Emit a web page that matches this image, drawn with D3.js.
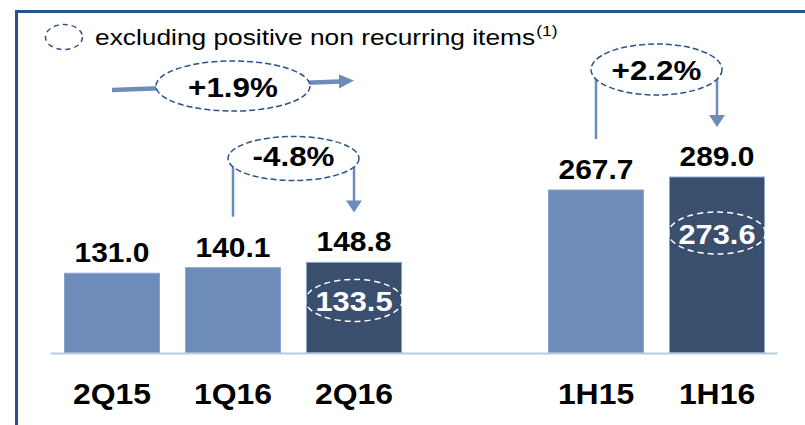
<!DOCTYPE html>
<html>
<head>
<meta charset="utf-8">
<script src="https://cdn.jsdelivr.net/npm/d3@7"></script>
<style>
  body { margin: 0; background: #fff; }
  svg { display: block; font-family: "Liberation Sans", Arial, sans-serif; }
</style>
</head>
<body>
<svg width="805" height="425"></svg>
<script>
// data
var categories = ["2Q15", "1Q16", "2Q16", "", "1H15", "1H16"];
var values = [131.0, 140.1, 148.8, null, 267.7, 289.0];
var highlighted = [false, false, true, false, false, true];
var excluding = [null, null, 133.5, null, null, 273.6];
var changes = [
  {from: "1Q16", to: "2Q16", label: "-4.8%"},
  {from: "1H15", to: "1H16", label: "+2.2%"}
];
var yearChange = {from: "2Q15", to: "2Q16", label: "+1.9%"};
var legendText = "excluding positive non recurring items";

var light = "#6d8cb9", dark = "#3a4e6e", frame = "#2b5286", axisCol = "#b9c9e0";

var svg = d3.select("svg");

var x = d3.scaleBand()
  .domain(categories)
  .range([51.5, 777.5])
  .paddingInner(0.215)
  .paddingOuter(0.1075);

var y = d3.scaleLinear()
  .domain([0, 289])
  .range([353, 177]);

var cx = function(c) { return x(c) + x.bandwidth() / 2; };
var data = categories.map(function(c, i) {
  return {cat: c, value: values[i], hi: highlighted[i], ex: excluding[i]};
}).filter(function(d) { return d.value != null; });

// text that is a bit wider than the font, like the original slide
function wideText(sel, tx, ty, sx) {
  return sel.attr("transform", function(d, i) {
    var a = typeof tx === "function" ? tx(d, i) : tx;
    var b = typeof ty === "function" ? ty(d, i) : ty;
    return "translate(" + a + "," + b + ") scale(" + sx + ",1)";
  }).attr("text-anchor", "middle");
}

// frame
svg.append("line").attr("x1", 15).attr("x2", 805).attr("y1", 11.5).attr("y2", 11.5)
  .attr("stroke", frame).attr("stroke-width", 3);
svg.append("line").attr("x1", 16.5).attr("x2", 16.5).attr("y1", 10).attr("y2", 425)
  .attr("stroke", frame).attr("stroke-width", 3);

// legend
svg.append("ellipse").attr("cx", 64).attr("cy", 37).attr("rx", 18.5).attr("ry", 12.5)
  .attr("fill", "none").attr("stroke", frame).attr("stroke-width", 1.5)
  .attr("stroke-dasharray", "5,4");
var lt = svg.append("text").attr("transform", "translate(95,44.5) scale(1.17,1)")
  .attr("font-size", 22.5).attr("fill", "#000").text(legendText);
lt.append("tspan").attr("font-size", 15).attr("dy", -9).attr("dx", 1).text("(1)");

// bars
svg.selectAll(".bar").data(data).enter().append("rect")
  .attr("class", "bar")
  .attr("x", function(d) { return x(d.cat); })
  .attr("width", x.bandwidth())
  .attr("y", function(d) { return y(d.value); })
  .attr("height", function(d) { return y(0) - y(d.value); })
  .attr("fill", function(d) { return d.hi ? dark : light; })
  .attr("stroke", "#8ba6cc")
  .attr("stroke-width", 1);

// baseline
svg.append("line").attr("x1", x.range()[0] - 1).attr("x2", x.range()[1])
  .attr("y1", y(0) + 0.5).attr("y2", y(0) + 0.5)
  .attr("stroke", axisCol).attr("stroke-width", 2);

// value labels
wideText(svg.selectAll(".val").data(data).enter().append("text"),
    function(d) { return cx(d.cat); }, function(d) { return y(d.value) - 11; }, 1.07)
  .attr("font-size", 28).attr("font-weight", "bold")
  .text(function(d) { return d.value.toFixed(1); });

// category labels
wideText(svg.selectAll(".cat").data(data).enter().append("text"),
    function(d) { return cx(d.cat); }, 403.5, 1.1)
  .attr("font-size", 29).attr("font-weight", "bold")
  .text(function(d) { return d.cat; });

// excluding values inside dark bars
var ex = data.filter(function(d) { return d.ex != null; });
var exOffset = [38, 56];
svg.selectAll(".exE").data(ex).enter().append("ellipse")
  .attr("cx", function(d) { return cx(d.cat); })
  .attr("cy", function(d, i) { return y(d.value) + exOffset[i]; })
  .attr("rx", 48.5).attr("ry", 21)
  .attr("fill", "none").attr("stroke", "#fff").attr("stroke-width", 1.5)
  .attr("stroke-dasharray", "6,4");
wideText(svg.selectAll(".exT").data(ex).enter().append("text"),
    function(d) { return cx(d.cat); }, function(d, i) { return y(d.value) + exOffset[i] + 11; }, 1.08)
  .attr("font-size", 28.5).attr("font-weight", "bold")
  .attr("fill", "#fff")
  .text(function(d) { return d.ex.toFixed(1); });

function arrowDown(g, px, tipY) {
  g.append("path")
    .attr("d", "M" + (px - 8) + "," + (tipY - 12) + "L" + (px + 8) + "," + (tipY - 12) + "L" + px + "," + tipY + "Z")
    .attr("fill", light);
}

function bubble(g, bx, by, rx, ry, label, dy) {
  g.append("ellipse").attr("cx", bx).attr("cy", by).attr("rx", rx).attr("ry", ry)
    .attr("fill", "#fff").attr("stroke", frame).attr("stroke-width", 1.5)
    .attr("stroke-dasharray", "6,3");
  wideText(g.append("text"), bx, by + dy, 1.12)
    .attr("font-size", 28).attr("font-weight", "bold")
    .text(label);
}

// change annotations
var bubbleY = {"-4.8%": 158.5, "+2.2%": 69.5};
var bubbleRy = {"-4.8%": 22, "+2.2%": 25.5};
var bubbleDy = {"-4.8%": 7, "+2.2%": 10.5};
changes.forEach(function(c) {
  var g = svg.append("g");
  var x1 = cx(c.from), x2 = cx(c.to);
  var v1 = values[categories.indexOf(c.from)], v2 = values[categories.indexOf(c.to)];
  var by = bubbleY[c.label];
  g.append("line").attr("x1", x1).attr("x2", x1).attr("y1", by).attr("y2", y(v1) - 51)
    .attr("stroke", light).attr("stroke-width", 2.5);
  g.append("line").attr("x1", x2).attr("x2", x2).attr("y1", by).attr("y2", y(v2) - 60)
    .attr("stroke", light).attr("stroke-width", 2.5);
  arrowDown(g, x2, y(v2) - 50);
  bubble(g, (x1 + x2) / 2, by, 65.5, bubbleRy[c.label], c.label, bubbleDy[c.label]);
});

// year-on-year arrow
(function() {
  var g = svg.append("g");
  var x1 = cx(yearChange.from), x2 = cx(yearChange.to);
  g.append("line").attr("x1", x1).attr("y1", 90).attr("x2", x2 - 14).attr("y2", 81.5)
    .attr("stroke", light).attr("stroke-width", 4.5);
  g.append("path")
    .attr("d", "M" + (x2 - 15) + "," + 74.5 + "L" + x2 + "," + 80.5 + "L" + (x2 - 15) + "," + 88.5 + "Z")
    .attr("fill", light);
  bubble(g, cx("1Q16"), 86, 77, 25, yearChange.label, 10.5);
})();
</script>
</body>
</html>
